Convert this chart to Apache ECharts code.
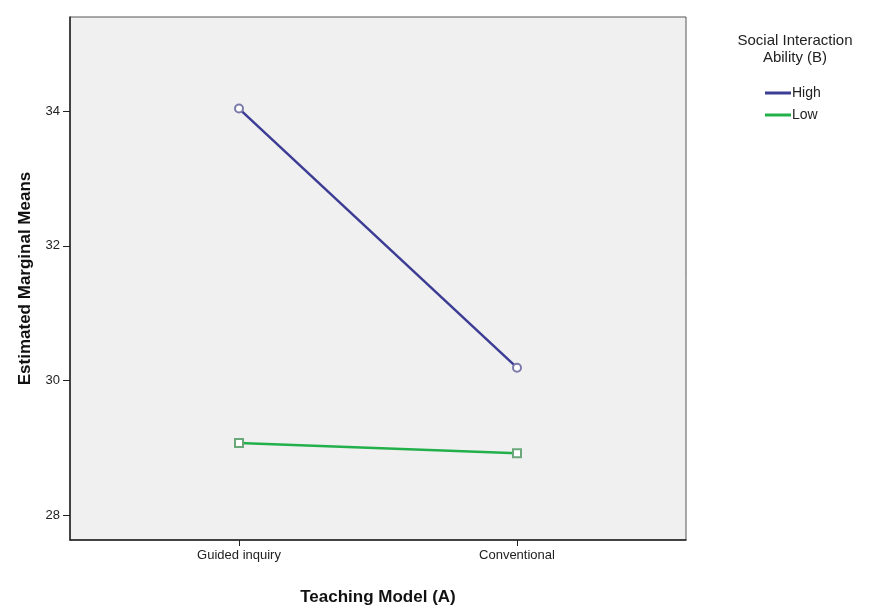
<!DOCTYPE html>
<html><head><meta charset="utf-8">
<script src="https://cdn.jsdelivr.net/npm/echarts@6/dist/echarts.min.js"></script>
<style>html,body{margin:0;padding:0;background:#fff}#c{width:875px;height:611px}</style>
</head><body><div id="c"></div>
<script>
const categories = ['Guided inquiry', 'Conventional'];
const seriesNames = ['High', 'Low'];
const highValues = [34.04, 30.19];
const lowValues = [29.07, 28.92];
const yTicks = [28, 30, 32, 34];
const legendTitle = 'Social Interaction\nAbility (B)';
const xTitle = 'Teaching Model (A)';
const yTitle = 'Estimated Marginal Means';

const toPts = vals => vals.map((v, i) => [i, v]);
const font = 'Liberation Sans, Arial, sans-serif';
const highColor = '#3c3c94', lowColor = '#22b04a';
const chart = echarts.init(document.getElementById('c'), null, {renderer: 'canvas'});
chart.setOption({
  animation: false,
  backgroundColor: '#ffffff',
  title: {
    text: legendTitle, left: 790, top: 27, textAlign: 'center',
    textStyle: {fontFamily: font, fontSize: 15, fontWeight: 'normal', color: '#222', lineHeight: 17, align: 'center'}
  },
  legend: {
    orient: 'vertical', left: 760, top: 81, itemWidth: 26, itemHeight: 3, itemGap: 8,
    icon: 'rect',
    textStyle: {fontFamily: font, fontSize: 14, color: '#222', padding: [0, 0, 0, -4]},
    data: [
      {name: seriesNames[0], itemStyle: {color: highColor}},
      {name: seriesNames[1], itemStyle: {color: lowColor}}
    ]
  },
  grid: {
    left: 70, right: 189, top: 17, bottom: 71, show: true,
    backgroundColor: '#f0f0f0', borderColor: '#555', borderWidth: 1
  },
  xAxis: {
    type: 'value', min: -0.608, max: 1.608,
    name: xTitle, nameLocation: 'middle', nameGap: 49,
    nameTextStyle: {fontFamily: font, fontSize: 17, fontWeight: 'bold', color: '#111'},
    axisLine: {show: true, onZero: false, lineStyle: {color: '#222', width: 1.5}},
    axisTick: {show: true, customValues: [0, 1], length: 6, lineStyle: {color: '#222'}},
    axisLabel: {customValues: [0, 1], formatter: v => categories[Math.round(v)] || '',
      fontFamily: font, fontSize: 13, color: '#222', margin: 9},
    splitLine: {show: false}
  },
  yAxis: {
    type: 'value', min: 27.63, max: 35.4,
    name: yTitle, nameLocation: 'middle', nameGap: 36,
    nameTextStyle: {fontFamily: font, fontSize: 17, fontWeight: 'bold', color: '#111'},
    axisLine: {show: true, onZero: false, lineStyle: {color: '#222', width: 1.5}},
    axisTick: {show: true, customValues: yTicks, length: 7, lineStyle: {color: '#222'}},
    axisLabel: {customValues: yTicks, fontFamily: font, fontSize: 13, color: '#222', margin: 10},
    splitLine: {show: false}
  },
  series: [
    {name: seriesNames[0], type: 'line', data: toPts(highValues),
     symbol: 'emptyCircle', symbolSize: 8,
     itemStyle: {color: '#7a7aa8', borderWidth: 1.2},
     lineStyle: {color: highColor, width: 2.5}},
    {name: seriesNames[1], type: 'line', data: toPts(lowValues),
     symbol: 'emptyRect', symbolSize: 8,
     itemStyle: {color: '#6aa87a', borderWidth: 1.2},
     lineStyle: {color: lowColor, width: 2.5}}
  ]
});
</script></body></html>
